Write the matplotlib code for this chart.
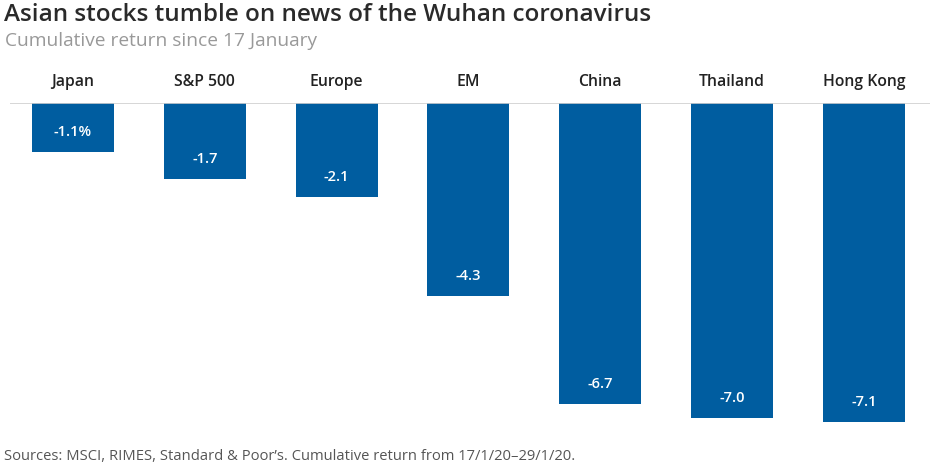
import matplotlib
matplotlib.use('Agg')
import matplotlib.pyplot as plt

plt.rcParams['font.family'] = ['Open Sans', 'DejaVu Sans']

markets = ['Japan', 'S&P 500', 'Europe', 'EM', 'China', 'Thailand', 'Hong Kong']
returns = [-1.1, -1.7, -2.1, -4.3, -6.7, -7.0, -7.1]
value_labels = ['-1.1%', '-1.7', '-2.1', '-4.3', '-6.7', '-7.0', '-7.1']

W, H = 940, 466
fig = plt.figure(figsize=(W / 100, H / 100), dpi=100)
# axes from x=10..930 px, y=103 (zero line)..440 px
ax = fig.add_axes([10 / W, 1 - 440 / H, 920 / W, (440 - 103) / H])

blue = '#005DA0'
x = range(len(markets))
ax.bar(x, returns, width=0.622, color=blue)
ax.set_xlim(-0.478, 6.502)
ax.set_ylim(-7.49, 0)
ax.axhline(0, color='#cfcfcf', lw=1.2, zorder=3)

for i, (v, lab, name) in enumerate(zip(returns, value_labels, markets)):
    ax.text(i, v + 0.45, lab, color='white', ha='center', va='center',
            fontsize=10.5, fontweight='semibold')
    ax.text(i, 0.47, name, color='#222222', ha='center', va='center',
            fontsize=11.3, fontweight='semibold', clip_on=False)

ax.axis('off')

fig.text(4 / W, 1 - 15 / H, 'Asian stocks tumble on news of the Wuhan coronavirus',
         fontsize=17.5, fontweight='semibold', color='#2a2a2a', va='center')
fig.text(5 / W, 1 - 41 / H, 'Cumulative return since 17 January',
         fontsize=13.8, color='#999999', va='center')
fig.text(4 / W, 1 - 457 / H,
         "Sources: MSCI, RIMES, Standard & Poor\u2019s. Cumulative return from 17/1/20\u201329/1/20.",
         fontsize=10.6, color='#555555', va='center')

fig.savefig('out.png', dpi=100)
